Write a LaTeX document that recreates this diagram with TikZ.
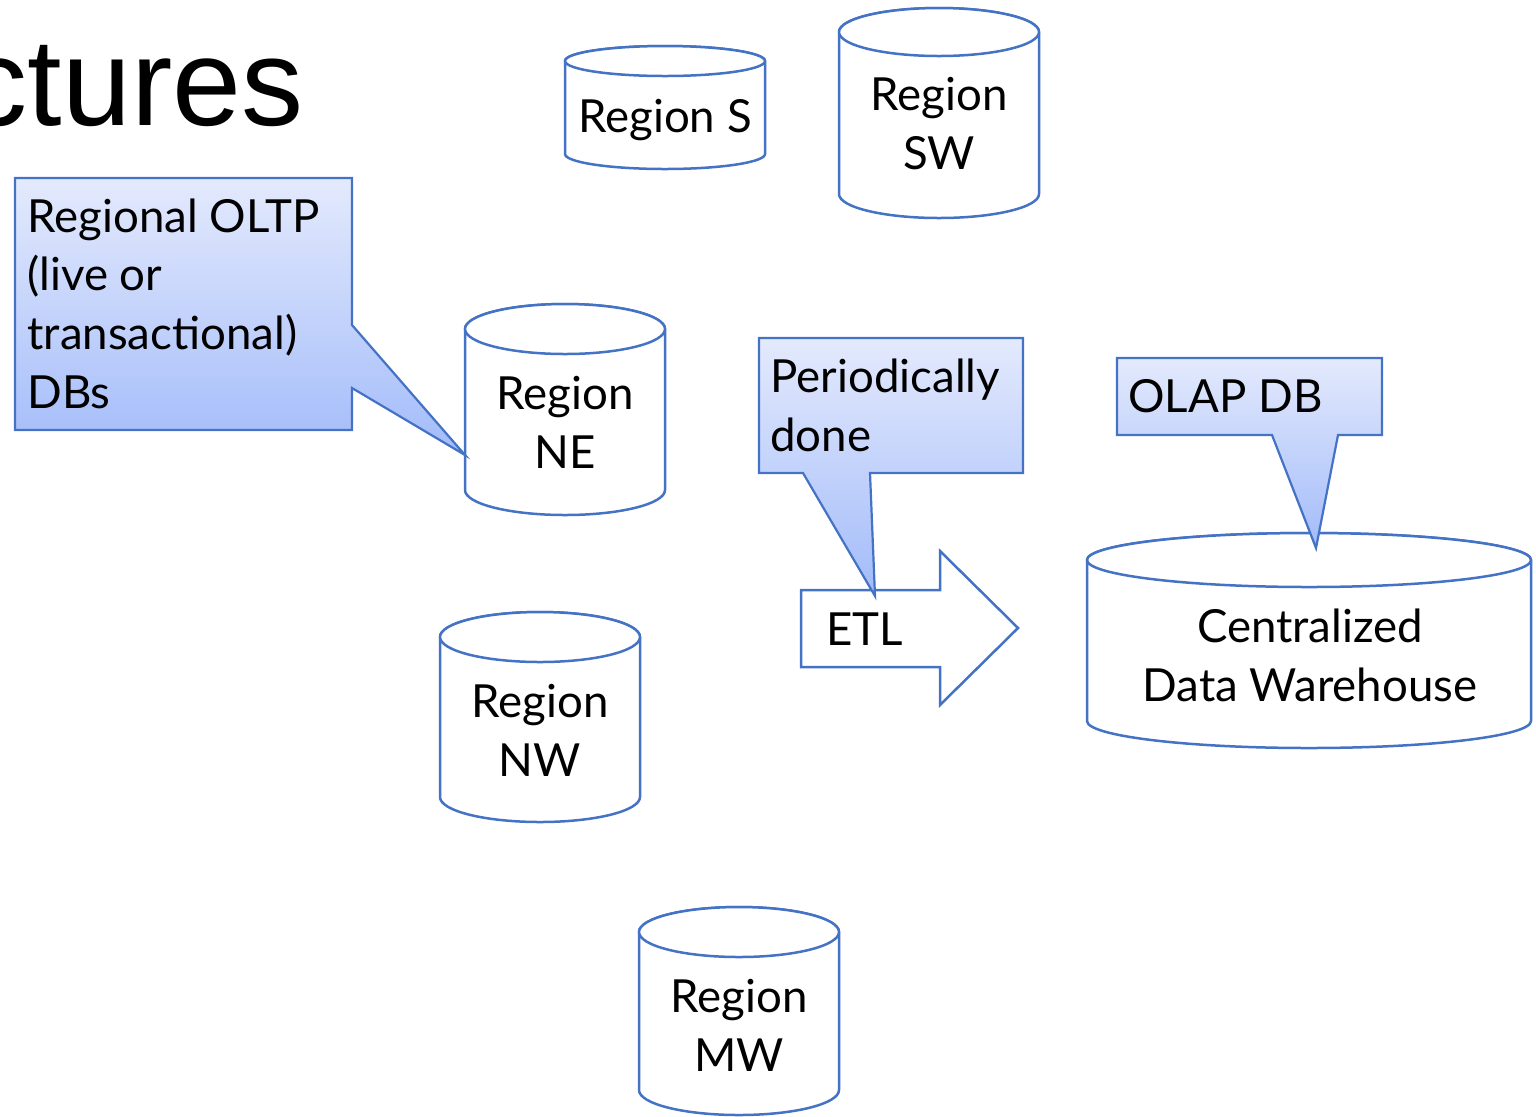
\documentclass[tikz,border=0pt]{standalone}
\usepackage{fontspec}
\setmainfont{Lato}
\newfontfamily\titlefont{Liberation Sans}
\definecolor{edge}{HTML}{4472C4}
\definecolor{calltop}{HTML}{E4EAFD}
\definecolor{callbot}{HTML}{A2BBF9}
\tikzset{
  dbline/.style={draw=edge, line width=1.25pt, fill=white, line join=round},
  callout/.style={draw=edge, line width=1.1pt, top color=calltop, bottom color=callbot, line join=miter},
  lbl/.style={inner sep=0pt, font=\fontsize{22.8}{29.3}\selectfont, text=black},
}
% database drum: centre x, half width, top rim y, bottom rim y, rim radius
\newcommand\dbdrum[5]{%
  \path[dbline] ({#1-#2},#3) -- ({#1-#2},#4)
    arc[start angle=180, end angle=0, x radius=#2, y radius=#5]
    -- ({#1+#2},#3)
    arc[start angle=0, end angle=-180, x radius=#2, y radius=#5] -- cycle;
  \draw[dbline] (#1,#3) ellipse [x radius=#2, y radius=#5];
}
\begin{document}
\begin{tikzpicture}[x=0.5pt, y=-0.5pt]
\useasboundingbox (0,0) rectangle (1536,1116);

% heading fragment
\node[anchor=base east, inner sep=0pt, font=\titlefont\fontsize{62}{62}\selectfont] (title) at (304,125) {ctures};

% regional databases (multi-line labels are placed by their last baseline)
\dbdrum{665}{100}{61}{154}{15}
\node[lbl, anchor=base] (rs) at (665,132) {Region S};

\dbdrum{939}{100}{32}{194}{24}
\node[lbl, anchor=base, align=center] (rsw) at (939,169) {Region\\SW};

\dbdrum{565}{100}{329}{490}{25}
\node[lbl, anchor=base, align=center] (rne) at (565,468) {Region\\NE};

\dbdrum{540}{100}{637}{797}{25}
\node[lbl, anchor=base, align=center] (rnw) at (540,776) {Region\\NW};

\dbdrum{739}{100}{932}{1090}{25}
\node[lbl, anchor=base, align=center] (rmw) at (739,1071) {Region\\MW};

% central warehouse
\dbdrum{1309}{222}{560}{721}{27}
\node[lbl, anchor=base, align=center] (dw) at (1310,701) {Centralized\\Data Warehouse};

% ETL arrow
\draw[dbline, line join=miter] (801,590) -- (940,590) -- (940,551) -- (1018,628) -- (940,705) -- (940,667) -- (801,667) -- cycle;
\node[lbl, anchor=base west] (etl) at (826,645) {ETL};

% callouts
\path[callout] (15,178) -- (352,178) -- (352,325) -- (465,455) -- (352,388) -- (352,430) -- (15,430) -- cycle;
\node[lbl, anchor=base west, align=left] (oltp) at (27,408) {Regional OLTP\\(live or\\transactional)\\DBs};

\path[callout] (759,338) -- (1023,338) -- (1023,473) -- (870,473) -- (875,596) -- (803,473) -- (759,473) -- cycle;
\node[lbl, anchor=base west, align=left] (per) at (770,451) {Periodically\\done};

\path[callout] (1117,358) -- (1382,358) -- (1382,435) -- (1338,435) -- (1316,548) -- (1272,435) -- (1117,435) -- cycle;
\node[lbl, anchor=base west] (olap) at (1128,412) {OLAP DB};
\end{tikzpicture}
\end{document}
